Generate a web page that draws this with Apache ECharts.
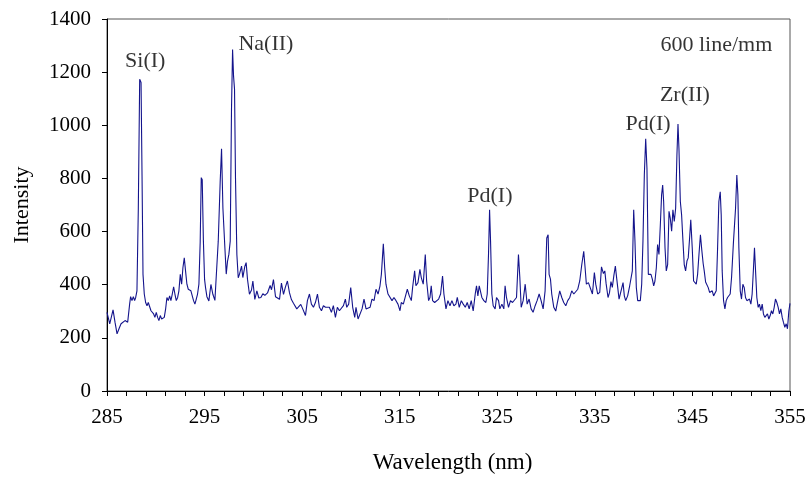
<!DOCTYPE html>
<html>
<head>
<meta charset="utf-8">
<script src="https://cdn.jsdelivr.net/npm/echarts@6/dist/echarts.min.js"></script>
<style>html,body{margin:0;padding:0;background:#fff}#c{width:811px;height:479px}</style>
</head>
<body>
<div id="c"></div>
<script>
const xTicks = [285, 295, 305, 315, 325, 335, 345, 355];
const yTicks = [0, 200, 400, 600, 800, 1000, 1200, 1400];
const wavelength = [
285.00,285.28,285.62,285.82,286.03,286.23,286.44,286.64,286.85,286.98,287.12,287.32,287.42,287.56,287.70,287.83,287.94,288.07,288.21,288.35,
288.49,288.59,288.69,288.82,288.96,289.10,289.23,289.37,289.51,289.64,289.78,289.91,290.05,290.19,290.32,290.46,290.60,290.73,290.87,291.01,
291.14,291.28,291.42,291.55,291.69,291.83,291.96,292.10,292.24,292.37,292.51,292.65,292.78,292.92,293.05,293.19,293.33,293.46,293.60,293.74,
293.87,294.01,294.15,294.28,294.42,294.55,294.66,294.76,294.88,295.00,295.10,295.24,295.44,295.65,295.85,296.06,296.19,296.40,296.60,296.74,
296.88,297.08,297.22,297.35,297.49,297.63,297.76,297.87,297.97,298.07,298.17,298.31,298.45,298.58,298.79,298.92,299.13,299.26,299.40,299.60,
299.81,299.95,300.15,300.36,300.56,300.77,300.97,301.18,301.45,301.72,301.86,302.06,302.27,302.47,302.68,302.88,303.09,303.29,303.49,303.70,
303.90,304.11,304.31,304.45,304.65,304.86,305.06,305.34,305.54,305.75,305.95,306.16,306.36,306.57,306.77,306.98,307.18,307.39,307.59,307.79,
308.00,308.20,308.41,308.61,308.82,309.02,309.23,309.43,309.57,309.77,309.98,310.18,310.39,310.52,310.73,310.93,311.14,311.34,311.55,311.75,
311.96,312.16,312.37,312.57,312.78,312.98,313.12,313.32,313.46,313.59,313.80,314.00,314.21,314.41,314.62,314.82,315.03,315.16,315.37,315.57,
315.78,315.98,316.19,316.32,316.53,316.66,316.87,317.07,317.21,317.41,317.62,317.76,317.96,318.10,318.23,318.37,318.58,318.78,318.99,319.19,
319.39,319.53,319.74,319.94,320.15,320.35,320.55,320.76,320.90,321.10,321.31,321.51,321.72,321.92,322.12,322.33,322.53,322.74,322.87,323.01,
323.15,323.28,323.42,323.62,323.83,323.97,324.10,324.21,324.31,324.44,324.58,324.78,324.92,325.13,325.26,325.47,325.67,325.80,325.94,326.15,
326.35,326.56,326.76,326.97,327.17,327.31,327.45,327.65,327.86,328.06,328.26,328.47,328.67,328.88,329.08,329.29,329.49,329.70,329.90,330.07,
330.21,330.31,330.45,330.58,330.79,330.99,331.20,331.40,331.61,331.81,332.02,332.22,332.43,332.63,332.84,333.04,333.25,333.45,333.66,333.86,
334.00,334.13,334.34,334.54,334.75,334.95,335.09,335.29,335.50,335.68,335.88,336.02,336.15,336.35,336.50,336.65,336.79,336.95,337.10,337.25,
337.48,337.68,337.89,338.02,338.16,338.36,338.57,338.70,338.84,338.98,339.11,339.25,339.39,339.52,339.66,339.80,339.93,340.07,340.21,340.34,
340.48,340.62,340.75,340.89,341.03,341.16,341.30,341.43,341.57,341.71,341.84,341.95,342.05,342.19,342.32,342.46,342.60,342.73,342.87,343.00,
343.14,343.28,343.41,343.52,343.62,343.76,343.89,344.03,344.16,344.30,344.44,344.57,344.71,344.83,344.98,345.12,345.26,345.39,345.53,345.67,
345.82,345.96,346.10,346.21,346.35,346.48,346.62,346.76,346.89,347.03,347.17,347.30,347.44,347.58,347.71,347.85,347.95,348.05,348.19,348.33,
348.46,348.60,348.74,348.87,349.01,349.21,349.42,349.55,349.66,349.76,349.90,350.03,350.17,350.31,350.44,350.58,350.72,350.85,350.99,351.12,
351.26,351.36,351.47,351.60,351.74,351.87,352.01,352.15,352.28,352.42,352.56,352.69,352.83,352.97,353.10,353.24,353.38,353.51,353.65,353.79,
353.92,354.06,354.20,354.33,354.47,354.61,354.74,354.88,355.00
];
const intensity = [
296,253,305,259,215,234,253,255,265,271,259,327,355,340,355,340,352,377,688,1173,
1161,813,439,365,333,321,333,327,302,309,290,277,296,277,265,284,271,265,277,309,
352,340,358,340,365,392,365,340,352,377,439,402,464,501,452,402,383,389,377,371,
340,327,346,365,402,560,803,795,564,420,389,355,339,401,364,341,427,563,787,912,
688,540,440,488,514,564,1061,1285,1185,1136,800,514,426,440,470,427,470,483,420,364,
380,414,345,377,350,352,366,360,369,397,381,419,355,361,345,406,364,392,414,370,
344,330,325,309,315,326,309,284,340,365,327,315,333,365,315,302,321,315,309,315,
296,321,277,315,302,309,321,346,315,327,389,315,277,315,271,265,309,346,309,302,
315,346,340,383,365,396,439,554,464,402,365,371,340,352,340,327,302,333,327,330,
383,358,340,389,452,396,408,458,427,402,514,414,340,352,396,340,333,340,346,365,
433,365,309,340,321,340,321,327,352,315,340,327,315,333,309,340,301,365,396,358,
396,402,352,340,333,365,514,682,564,365,321,309,352,340,309,327,309,396,352,315,
340,333,340,352,514,427,315,340,402,327,346,309,296,321,340,365,340,309,377,576,
588,439,421,365,315,301,340,377,352,333,321,340,352,377,365,371,383,414,476,526,
464,402,408,402,365,446,402,365,371,467,442,452,405,352,370,412,390,435,470,420,
346,352,408,358,340,358,396,396,452,682,564,389,340,333,340,402,564,813,949,837,
439,433,439,421,396,414,464,551,514,625,738,775,713,539,452,476,676,650,601,682,
638,688,887,1005,912,713,663,564,476,452,489,501,576,644,539,414,408,402,439,514,
588,530,480,452,410,405,389,371,365,377,358,352,377,539,713,750,663,452,340,309,
340,352,352,365,427,564,688,813,738,539,377,346,402,389,352,340,340,346,327,365,
464,539,452,352,315,327,302,327,290,277,271,290,271,284,302,290,315,346,333,315,
290,309,277,258,240,253,234,300,330
];
const annotText = ['Si(I)', 'Na(II)', 'Pd(I)', 'Pd(I)', 'Zr(II)', '600 line/mm'];
const annotX = [288.92, 301.29, 324.24, 340.45, 344.23, 347.45];
const annotY = [1240, 1306, 733, 1005, 1115, 1300];

const FONT = "'Liberation Serif','Times New Roman',serif";
const chart = echarts.init(document.getElementById('c'), null, {renderer: 'canvas'});
chart.setOption({
  animation: false,
  backgroundColor: '#fff',
  grid: {left: 107, right: 21, top: 19, bottom: 84, show: true, borderColor: '#555', borderWidth: 1, backgroundColor: 'transparent'},
  xAxis: {
    type: 'value', min: xTicks[0], max: xTicks[xTicks.length - 1], interval: 10,
    name: 'Wavelength (nm)', nameLocation: 'middle', nameGap: 60,
    nameTextStyle: {fontFamily: FONT, fontSize: 23, color: '#000', padding: [0, 0, 0, 8]},
    axisLine: {show: true, onZero: false, lineStyle: {color: '#000', width: 1}},
    axisTick: {show: true, length: 5, lineStyle: {color: '#000'}},
    minorTick: {show: true, splitNumber: 5, length: 5, lineStyle: {color: '#000'}},
    axisLabel: {fontFamily: FONT, fontSize: 21, color: '#000', margin: 16, formatter: v => String(v)},
    splitLine: {show: false}
  },
  yAxis: {
    type: 'value', min: yTicks[0], max: yTicks[yTicks.length - 1], interval: 200,
    name: 'Intensity', nameLocation: 'middle', nameGap: 74,
    nameTextStyle: {fontFamily: FONT, fontSize: 22, color: '#000'},
    axisLine: {show: true, lineStyle: {color: '#000', width: 1}},
    axisTick: {show: true, length: 5, lineStyle: {color: '#000'}},
    axisLabel: {fontFamily: FONT, fontSize: 21, color: '#000', margin: 16, formatter: v => String(v)},
    splitLine: {show: false}
  },
  series: [
    {
      type: 'line',
      data: wavelength.map((w, i) => [w, intensity[i]]),
      showSymbol: false,
      lineStyle: {color: '#14148c', width: 1.1},
      silent: true
    },
    {
      type: 'scatter',
      symbolSize: 0,
      silent: true,
      data: annotText.map((t, i) => ({name: t, value: [annotX[i], annotY[i]]})),
      label: {show: true, position: 'inside', formatter: '{b}', fontFamily: FONT, fontSize: 22, color: '#000'}
    }
  ]
});
</script>
</body>
</html>
